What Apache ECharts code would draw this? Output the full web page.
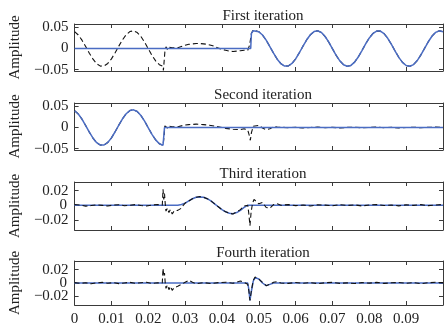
<!DOCTYPE html>
<html>
<head>
<meta charset="utf-8">
<script src="https://cdn.jsdelivr.net/npm/echarts@6/dist/echarts.min.js"></script>
<style>
  html, body { margin: 0; padding: 0; background: #ffffff; }
  #chart { width: 444px; height: 327px; }
</style>
</head>
<body>
<div id="chart"></div>
<script>
// ---- Data: time (s) / amplitude pairs ----

// Steady 60 Hz component before the disturbance
const waveHead = [
  [0, 0.0398], [0.001, 0.0320], [0.002, 0.0198], [0.003, 0.0047], [0.004, -0.0110],
  [0.005, -0.0251], [0.006, -0.0357], [0.007, -0.0414], [0.008, -0.0412], [0.009, -0.0352],
  [0.010, -0.0243], [0.011, -0.0099], [0.012, 0.0058], [0.013, 0.0207], [0.014, 0.0327],
  [0.015, 0.0401], [0.016, 0.0419], [0.017, 0.0378], [0.018, 0.0284], [0.019, 0.0150],
  [0.020, -0.0005], [0.021, -0.0160], [0.022, -0.0291], [0.023, -0.0382], [0.024, -0.0419]
];

// Steady component after recovery
const waveTail = [
  [0.050, 0.0398], [0.051, 0.0320], [0.052, 0.0198], [0.053, 0.0047], [0.054, -0.0110],
  [0.055, -0.0251], [0.056, -0.0357], [0.057, -0.0414], [0.058, -0.0412], [0.059, -0.0352],
  [0.060, -0.0243], [0.061, -0.0099], [0.062, 0.0058], [0.063, 0.0207], [0.064, 0.0327],
  [0.065, 0.0401], [0.066, 0.0419], [0.067, 0.0378], [0.068, 0.0284], [0.069, 0.0150],
  [0.070, -0.0005], [0.071, -0.0160], [0.072, -0.0291], [0.073, -0.0382], [0.074, -0.0419],
  [0.075, -0.0398], [0.076, -0.0320], [0.077, -0.0198], [0.078, -0.0047], [0.079, 0.0110],
  [0.080, 0.0251], [0.081, 0.0357], [0.082, 0.0414], [0.083, 0.0412], [0.084, 0.0352],
  [0.085, 0.0243], [0.086, 0.0099], [0.087, -0.0058], [0.088, -0.0207], [0.089, -0.0327],
  [0.090, -0.0401], [0.091, -0.0419], [0.092, -0.0378], [0.093, -0.0284], [0.094, -0.0150],
  [0.095, 0.0005], [0.096, 0.0160], [0.097, 0.0291], [0.098, 0.0382], [0.099, 0.0419],
  [0.100, 0.0398]
];

// First iteration: measured signal during the disturbance (dashed)
const signalMid = [
  [0.0239, -0.044], [0.0241, -0.052], [0.0243, -0.030], [0.0245, -0.008], [0.0248, 0.004],
  [0.0252, -0.002], [0.0256, 0.003], [0.026, -0.001], [0.0265, 0.002], [0.027, -0.001],
  [0.028, 0.002], [0.029, 0.005], [0.030, 0.008], [0.031, 0.010], [0.032, 0.011],
  [0.033, 0.012], [0.034, 0.012], [0.035, 0.011], [0.036, 0.010], [0.037, 0.008],
  [0.038, 0.005], [0.039, 0.001], [0.040, -0.002], [0.041, -0.004], [0.042, -0.006],
  [0.043, -0.007], [0.044, -0.006], [0.045, -0.005], [0.046, -0.004], [0.047, -0.004],
  [0.0475, 0.008], [0.048, 0.036], [0.0485, 0.044], [0.049, 0.045]
];

// First iteration: extracted component (blue)
const comp1Head = [[0, 0], [0.0478, 0], [0.0480, 0.036], [0.0485, 0.042], [0.049, 0.0425]];

// Second iteration: extracted component (blue)
const comp2Tail = [[0.0241, -0.044], [0.0244, 0.000], [0.100, 0.000]];

// Second iteration: residual (dashed)
const resid2Mid = [
  [0.0241, -0.046], [0.0243, -0.020], [0.0245, 0.004], [0.0249, 0.002], [0.0253, -0.002],
  [0.0257, 0.003], [0.026, 0.000], [0.0265, 0.002], [0.027, 0.000], [0.028, 0.002],
  [0.029, 0.004], [0.030, 0.006], [0.031, 0.007], [0.033, 0.008], [0.035, 0.007],
  [0.037, 0.005], [0.039, 0.002], [0.041, -0.002], [0.043, -0.004], [0.045, -0.005],
  [0.046, -0.003], [0.047, -0.006], [0.0474, -0.018], [0.0477, -0.030], [0.048, -0.012],
  [0.0485, 0.003], [0.049, 0.007], [0.050, 0.005], [0.051, -0.001], [0.052, -0.005],
  [0.053, -0.003], [0.054, 0.002], [0.055, 0.001]
];
const resid2Tail = [
  [0.056, 0.0008], [0.058, -0.0004], [0.060, 0.0006], [0.062, -0.0008], [0.064, 0.0003],
  [0.066, 0.0010], [0.068, -0.0002], [0.070, 0.0005], [0.072, -0.0009], [0.074, 0.0004],
  [0.076, 0.0007], [0.078, -0.0005], [0.080, 0.0002], [0.082, 0.0011], [0.084, -0.0003],
  [0.086, 0.0006], [0.088, -0.0007], [0.090, 0.0001], [0.092, 0.0009], [0.094, -0.0004],
  [0.096, 0.0005], [0.098, 0.0012], [0.100, 0.0006]
];

// Third iteration: extracted component (blue)
const comp3 = [
  [0, 0], [0.028, 0], [0.029, 0.001], [0.030, 0.003], [0.031, 0.006], [0.032, 0.009],
  [0.033, 0.011], [0.034, 0.0115], [0.035, 0.011], [0.036, 0.009], [0.037, 0.006],
  [0.038, 0.002], [0.039, -0.002], [0.040, -0.006], [0.041, -0.009], [0.042, -0.011],
  [0.043, -0.0115], [0.044, -0.010], [0.045, -0.007], [0.046, -0.003], [0.047, 0.000],
  [0.100, 0]
];

// Third iteration: residual (dashed)
const resid3 = [
  [0, 0.0010], [0.0015, 0.0002], [0.003, -0.0012], [0.0045, -0.0004], [0.006, 0.0006],
  [0.0075, -0.0002], [0.009, -0.0010], [0.0105, 0.0003], [0.012, 0.0008], [0.0135, -0.0006],
  [0.015, 0.0000], [0.0165, 0.0009], [0.018, -0.0003], [0.0195, -0.0011], [0.021, 0.0004],
  [0.0225, 0.0010], [0.0238, 0.000], [0.0240, 0.022], [0.0242, 0.008], [0.0244, 0.016],
  [0.0246, 0.002], [0.0248, -0.008], [0.0252, -0.004], [0.0256, -0.010], [0.026, -0.006],
  [0.0265, -0.012], [0.027, -0.008], [0.0275, -0.010], [0.028, -0.007], [0.0285, -0.009],
  [0.029, -0.004], [0.0295, 0.000], [0.030, 0.003], [0.031, 0.006], [0.032, 0.009],
  [0.033, 0.011], [0.034, 0.012], [0.035, 0.011], [0.036, 0.009], [0.037, 0.006],
  [0.038, 0.002], [0.039, -0.002], [0.040, -0.006], [0.041, -0.009], [0.042, -0.011],
  [0.043, -0.012], [0.044, -0.009], [0.045, -0.006], [0.046, -0.001], [0.0465, 0.001],
  [0.047, 0.000], [0.0473, -0.012], [0.0476, -0.028], [0.0479, -0.010], [0.0483, 0.003],
  [0.0487, 0.008], [0.049, 0.006], [0.050, 0.002], [0.051, 0.004], [0.052, -0.003],
  [0.053, -0.004], [0.054, 0.001], [0.055, 0.002], [0.056, 0.000], [0.058, 0.0009],
  [0.060, -0.0005], [0.062, 0.0004], [0.064, -0.0010], [0.066, 0.0006], [0.068, 0.0002],
  [0.070, -0.0007], [0.072, 0.0008], [0.074, -0.0003], [0.076, 0.0005], [0.078, -0.0009],
  [0.080, 0.0004], [0.082, 0.0010], [0.084, -0.0004], [0.086, 0.0003], [0.088, -0.0008],
  [0.090, 0.0006], [0.092, -0.0002], [0.094, 0.0009], [0.096, -0.0005], [0.098, 0.0004],
  [0.100, 0.0010]
];

// Fourth iteration: extracted component (blue)
const comp4 = [
  [0, 0], [0.047, 0], [0.0473, -0.010], [0.0476, -0.026], [0.0480, -0.012],
  [0.0485, 0.003], [0.049, 0.008], [0.0495, 0.009], [0.050, 0.006], [0.051, 0.000],
  [0.052, -0.004], [0.053, -0.002], [0.054, 0.000], [0.100, 0]
];

// Fourth iteration: residual (dashed)
const resid4 = [
  [0, 0.0008], [0.0015, -0.0006], [0.003, 0.0003], [0.0045, -0.0011], [0.006, 0.0002],
  [0.0075, 0.0009], [0.009, -0.0004], [0.0105, 0.0006], [0.012, -0.0009], [0.0135, 0.0001],
  [0.015, 0.0010], [0.0165, -0.0005], [0.018, 0.0004], [0.0195, 0.0011], [0.021, -0.0006],
  [0.0225, 0.0003], [0.0238, 0.000], [0.0240, 0.022], [0.0242, 0.010], [0.0244, 0.015],
  [0.0246, 0.000], [0.0248, -0.008], [0.0252, -0.003], [0.0256, -0.010], [0.026, -0.005],
  [0.0265, -0.011], [0.027, -0.007], [0.0275, -0.009], [0.028, -0.005], [0.029, -0.002],
  [0.030, 0.001], [0.031, 0.004], [0.032, 0.001], [0.033, -0.001], [0.035, 0.0006],
  [0.037, -0.0008], [0.039, 0.0005], [0.041, 0.0012], [0.043, -0.0004], [0.045, 0.003],
  [0.046, 0.001], [0.047, -0.002], [0.0473, -0.012], [0.0476, -0.026], [0.048, -0.011],
  [0.0485, 0.004], [0.049, 0.009], [0.0495, 0.009], [0.050, 0.006], [0.051, 0.001],
  [0.052, -0.004], [0.053, -0.002], [0.054, 0.001], [0.055, 0.002], [0.056, 0.000],
  [0.058, -0.0006], [0.060, 0.0008], [0.062, -0.0003], [0.064, 0.0005], [0.066, -0.0009],
  [0.068, 0.0004], [0.070, 0.0010], [0.072, -0.0005], [0.074, 0.0002], [0.076, -0.0008],
  [0.078, 0.0006], [0.080, -0.0002], [0.082, 0.0009], [0.084, -0.0006], [0.086, 0.0003],
  [0.088, 0.0008], [0.090, -0.0004], [0.092, 0.0005], [0.094, -0.0010], [0.096, 0.0004],
  [0.098, 0.0011], [0.100, 0.0005]
];

const panelTitles = ['First iteration', 'Second iteration', 'Third iteration', 'Fourth iteration'];
const yRanges = [[-0.053, 0.058], [-0.053, 0.058], [-0.034, 0.032], [-0.033, 0.033]];
const yTickValues = [[-0.05, 0, 0.05], [-0.05, 0, 0.05], [-0.02, 0, 0.02], [-0.02, 0, 0.02]];
const xTickLabels = [0, 0.01, 0.02, 0.03, 0.04, 0.05, 0.06, 0.07, 0.08, 0.09];
const yAxisName = 'Amplitude';

// Series assembled per panel: [component (solid blue), signal/residual (dashed)]
const panelSeries = [
  { comp: comp1Head.concat(waveTail), dashed: waveHead.concat(signalMid, waveTail) },
  { comp: waveHead.concat(comp2Tail), dashed: waveHead.concat(resid2Mid, resid2Tail) },
  { comp: comp3, dashed: resid3 },
  { comp: comp4, dashed: resid4 }
];

// ---- Layout / style ----
const FONT = 'Liberation Serif';
const INK = '#222222';
const FRAME = '#3a3a3a';
const BLUE = '#4a6cc3';
const PLOT_LEFT = 73, PLOT_RIGHT_GAP = 1, CHART_W = 444;
const gridTops = [24, 103, 182, 261];
const gridHeights = [47, 47, 48, 48];

function fmt(v) {
  if (Math.abs(v) < 1e-9) return '0';
  return String(+v.toFixed(2)).replace('-', '\u2212');
}
const labelFont = { fontFamily: FONT, fontSize: 15, color: INK };

const grids = [], xAxes = [], yAxes = [], series = [], titles = [];
for (let i = 0; i < 4; i++) {
  grids.push({ left: PLOT_LEFT, right: PLOT_RIGHT_GAP, top: gridTops[i], height: gridHeights[i] });
  titles.push({
    text: panelTitles[i], left: 258, textAlign: 'center', top: gridTops[i] - 20,
    textStyle: { fontFamily: FONT, fontSize: 15, fontWeight: 'normal', color: INK }
  });
  const axisLine = { show: true, onZero: false, lineStyle: { color: FRAME, width: 1 } };
  const tick = { show: true, inside: true, length: 4, lineStyle: { color: FRAME, width: 1 } };
  const xIdx = xAxes.length;
  // bottom & top x axes (box frame with inward ticks)
  xAxes.push({
    type: 'value', gridIndex: i, position: 'bottom', min: 0, max: 0.1, interval: 0.01,
    axisLine, axisTick: tick, splitLine: { show: false },
    axisLabel: Object.assign({
      show: i === 3, customValues: xTickLabels, margin: 7, formatter: fmt,
      hideOverlap: false, showMinLabel: true, showMaxLabel: true
    }, labelFont)
  });
  xAxes.push({
    type: 'value', gridIndex: i, position: 'top', min: 0, max: 0.1, interval: 0.01,
    axisLine, axisTick: tick, splitLine: { show: false }, axisLabel: { show: false }
  });
  // Tight panels: the centre label sits on its own axis so the three labels don't collide
  const tight = i >= 2;
  const ticks = yTickValues[i];
  const leftLabels = tight ? [ticks[0], ticks[2]] : ticks;
  const yIdx = yAxes.length;
  yAxes.push({
    type: 'value', gridIndex: i, position: 'left', min: yRanges[i][0], max: yRanges[i][1],
    axisLine, splitLine: { show: false },
    axisTick: Object.assign({ customValues: ticks }, tick),
    axisLabel: Object.assign({
      customValues: leftLabels, margin: 6, formatter: fmt,
      hideOverlap: false, showMinLabel: true, showMaxLabel: true
    }, labelFont),
    name: yAxisName, nameLocation: 'middle', nameRotate: 90, nameGap: 48,
    nameTextStyle: { fontFamily: FONT, fontSize: 15, color: INK }
  });
  yAxes.push({
    type: 'value', gridIndex: i, position: 'right', min: yRanges[i][0], max: yRanges[i][1],
    axisLine, splitLine: { show: false },
    axisTick: Object.assign({ customValues: ticks }, tick),
    axisLabel: { show: false }
  });
  if (tight) {
    yAxes.push({
      type: 'value', gridIndex: i, position: 'right',
      offset: -(CHART_W - PLOT_LEFT - PLOT_RIGHT_GAP),
      min: yRanges[i][0], max: yRanges[i][1],
      axisLine: { show: false }, axisTick: { show: false }, splitLine: { show: false },
      axisLabel: Object.assign({
        inside: true, customValues: [0], margin: 6, formatter: fmt,
        showMinLabel: true, showMaxLabel: true
      }, labelFont)
    });
  }
  const blueOnTop = i < 2;
  series.push({
    type: 'line', xAxisIndex: xIdx, yAxisIndex: yIdx, data: panelSeries[i].comp,
    showSymbol: false, silent: true, z: blueOnTop ? 3 : 2,
    lineStyle: { color: BLUE, width: 1.5 }
  });
  series.push({
    type: 'line', xAxisIndex: xIdx, yAxisIndex: yIdx, data: panelSeries[i].dashed,
    showSymbol: false, silent: true, z: blueOnTop ? 2 : 3,
    lineStyle: { color: '#111111', width: 1.1, type: [5, 3] }
  });
}

const chart = echarts.init(document.getElementById('chart'), null, { renderer: 'canvas' });
chart.setOption({
  animation: false,
  backgroundColor: '#ffffff',
  title: titles,
  grid: grids,
  xAxis: xAxes,
  yAxis: yAxes,
  series: series
});
</script>
</body>
</html>
